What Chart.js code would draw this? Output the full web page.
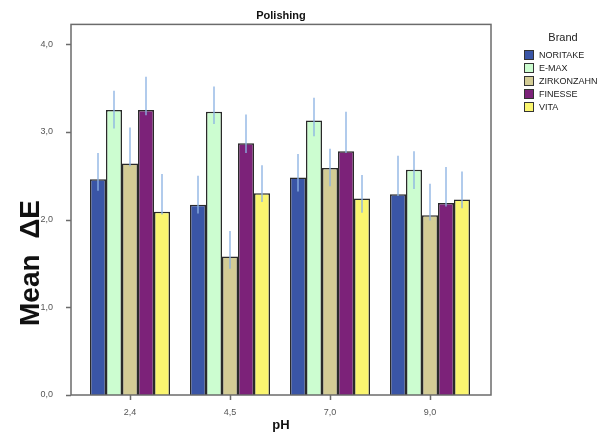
<!DOCTYPE html>
<html>
<head>
<meta charset="utf-8">
<script src="https://cdn.jsdelivr.net/npm/chart.js@4/dist/chart.umd.min.js"></script>
<style>
  html, body { margin: 0; padding: 0; background: #fff; }
  #wrap { width: 609px; height: 432px; }
</style>
</head>
<body>
<div id="wrap"><canvas id="c" width="609" height="432"></canvas></div>
<script>
/* data */
const phLabels = ["2,4", "4,5", "7,0", "9,0"];
const brands = ["NORITAKE", "E-MAX", "ZIRKONZAHN", "FINESSE", "VITA"];
const brandColors = ["#3a55a6", "#ccfdd0", "#d3cc95", "#7c2279", "#fbf66f"];

const noritakeMean = [2.46, 2.17, 2.48, 2.29];
const emaxMean = [3.25, 3.23, 3.13, 2.57];
const zirkonzahnMean = [2.64, 1.58, 2.59, 2.05];
const finesseMean = [3.25, 2.87, 2.78, 2.19];
const vitaMean = [2.09, 2.30, 2.24, 2.23];

const noritakeLo = [2.33, 2.07, 2.32, 2.27];
const noritakeHi = [2.76, 2.50, 2.75, 2.73];
const emaxLo = [3.04, 3.09, 2.95, 2.35];
const emaxHi = [3.47, 3.52, 3.39, 2.78];
const zirkonzahnLo = [2.61, 1.44, 2.38, 1.99];
const zirkonzahnHi = [3.05, 1.87, 2.81, 2.41];
const finesseLo = [3.19, 2.76, 2.76, 2.15];
const finesseHi = [3.63, 3.20, 3.23, 2.60];
const vitaLo = [2.06, 2.20, 2.08, 2.13];
const vitaHi = [2.52, 2.62, 2.51, 2.55];

const yTicks = [0, 1, 2, 3, 4];

const means = [noritakeMean, emaxMean, zirkonzahnMean, finesseMean, vitaMean];
const lows = [noritakeLo, emaxLo, zirkonzahnLo, finesseLo, vitaLo];
const highs = [noritakeHi, emaxHi, zirkonzahnHi, finesseHi, vitaHi];

const FONT = "'Liberation Sans', Arial, sans-serif";
const comma = v => Number(v).toFixed(1).replace(".", ",");

/* frame, ticks, error bars, titles, legend */
const decor = {
  id: "decor",
  afterDatasetsDraw(chart) {
    const ctx = chart.ctx;
    const a = chart.chartArea;
    const xs = chart.scales.x, ys = chart.scales.y;
    const L = a.left - 9, R = a.right + 11, T = a.top, B = a.bottom;

    // error bars
    ctx.save();
    ctx.strokeStyle = "rgba(140,178,226,0.9)";
    ctx.lineWidth = 1.5;
    chart.data.datasets.forEach((ds, i) => {
      chart.getDatasetMeta(i).data.forEach((bar, j) => {
        ctx.beginPath();
        ctx.moveTo(bar.x, ys.getPixelForValue(lows[i][j]));
        ctx.lineTo(bar.x, ys.getPixelForValue(highs[i][j]));
        ctx.stroke();
      });
    });
    ctx.restore();

    // frame
    ctx.save();
    ctx.strokeStyle = "#6b6b6b";
    ctx.lineWidth = 1.5;
    ctx.strokeRect(L, T, R - L, B - T);
    ctx.beginPath();
    yTicks.forEach(v => {
      const y = Math.round(ys.getPixelForValue(v)) + 0.5;
      ctx.moveTo(L - 5, y); ctx.lineTo(L, y);
    });
    phLabels.forEach((_, j) => {
      const x = Math.round(xs.getPixelForValue(j)) + 0.5;
      ctx.moveTo(x, B); ctx.lineTo(x, B + 5);
    });
    ctx.stroke();
    ctx.restore();

    // titles
    ctx.save();
    ctx.fillStyle = "#111";
    ctx.textAlign = "center";
    ctx.textBaseline = "middle";
    ctx.font = "bold 11px " + FONT;
    ctx.fillText("Polishing", (L + R) / 2, 16);
    ctx.font = "bold 13px " + FONT;
    ctx.fillText("pH", (L + R) / 2, 425);
    ctx.translate(31, 263);
    ctx.rotate(-Math.PI / 2);
    ctx.font = "bold 28px " + FONT;
    ctx.fillText("Mean  \u0394E", 0, 0);
    ctx.restore();

    // legend
    ctx.save();
    ctx.font = "11px " + FONT;
    ctx.fillStyle = "#222";
    ctx.textAlign = "center";
    ctx.textBaseline = "middle";
    ctx.fillText("Brand", 563, 38);
    ctx.textAlign = "left";
    ctx.font = "9px " + FONT;
    chart.data.datasets.forEach((ds, i) => {
      const y = 55 + i * 13;
      ctx.fillStyle = ds.backgroundColor;
      ctx.fillRect(524, y - 5, 10, 10);
      ctx.strokeStyle = "#333";
      ctx.lineWidth = 1;
      ctx.strokeRect(524.5, y - 4.5, 9, 9);
      ctx.fillStyle = "#222";
      ctx.fillText(ds.label, 539, y + 0.5);
    });
    ctx.restore();
  }
};

new Chart(document.getElementById("c"), {
  type: "bar",
  data: {
    labels: phLabels,
    datasets: brands.map((b, i) => ({
      label: b,
      data: means[i],
      backgroundColor: brandColors[i],
      borderColor: "#2a2a2a",
      borderWidth: 1.5,
      categoryPercentage: 0.8,
      barPercentage: 1.0,
    })),
  },
  options: {
    responsive: false,
    animation: false,
    devicePixelRatio: 1,
    layout: { padding: { left: 0, top: 23, right: 129, bottom: 0 } },
    plugins: { legend: { display: false }, title: { display: false }, tooltip: { enabled: false } },
    scales: {
      x: {
        grid: { display: false },
        border: { display: false },
        ticks: { color: "#555", font: { family: FONT, size: 9 }, padding: 4 },
        afterFit: s => { s.height = 37; },
      },
      y: {
        min: 0,
        max: 4.227,
        grid: { display: false },
        border: { display: false },
        afterBuildTicks: s => { s.ticks = yTicks.map(v => ({ value: v })); },
        ticks: { color: "#555", font: { family: FONT, size: 9 }, padding: 19, callback: v => comma(v) },
        afterFit: s => { s.width = 80; },
      },
    },
  },
  plugins: [decor],
});
</script>
</body>
</html>
